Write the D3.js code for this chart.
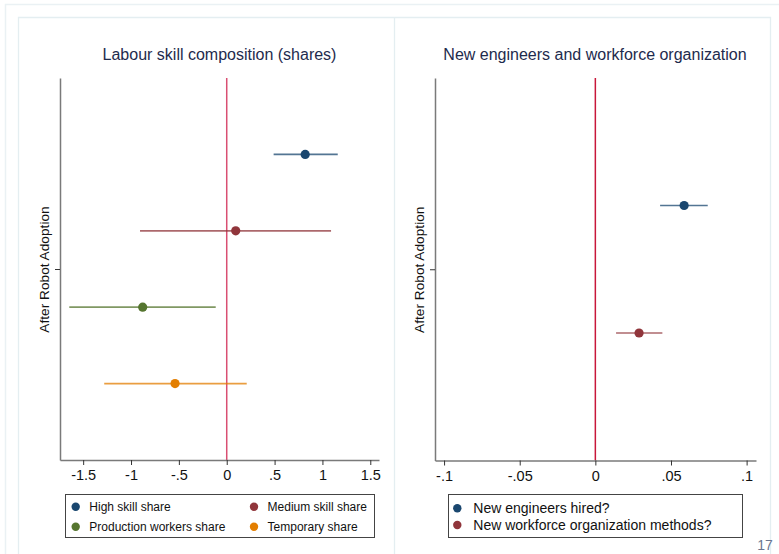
<!DOCTYPE html>
<html>
<head>
<meta charset="utf-8">
<script src="https://cdn.jsdelivr.net/npm/d3@7"></script>
<style>
  html, body { margin: 0; padding: 0; background: #fff; }
  svg { display: block; font-family: "Liberation Sans", Arial, Helvetica, sans-serif; }
</style>
</head>
<body>
<svg id="chart" width="779" height="554"></svg>
<script>
// Coefficient plot: effect of robot adoption, two panels

// Left panel: labour skill composition (shares)
const leftTitle = "Labour skill composition (shares)";
const leftSeries = ["High skill share", "Medium skill share", "Production workers share", "Temporary share"];
const leftCoef = [0.82, 0.094, -0.878, -0.54];
const leftLow  = [0.49, -0.906, -1.645, -1.28];
const leftHigh = [1.16, 1.09, -0.115, 0.209];
const leftTicks = [-1.5, -1, -0.5, 0, 0.5, 1, 1.5];

// Right panel: new engineers and workforce organization
const rightTitle = "New engineers and workforce organization";
const rightSeries = ["New engineers hired?", "New workforce organization methods?"];
const rightCoef = [0.0587, 0.0289];
const rightLow  = [0.0428, 0.0137];
const rightHigh = [0.0743, 0.0443];
const rightTicks = [-0.1, -0.05, 0, 0.05, 0.1];

const coefLabel = "After Robot Adoption";
const palette = ["#1a476f", "#90353b", "#55752f", "#e37e00"];

const svg = d3.select("#chart");

// Slide-style frames
svg.append("path").attr("d", "M5.5,554 V4.5 H779").attr("fill", "none").attr("stroke", "#eaf1f4").attr("stroke-width", 1.5);
svg.append("path").attr("d", "M18.5,554 V17.5 H770.5 V554 M394.5,17.5 V554").attr("fill", "none").attr("stroke", "#e4eef1").attr("stroke-width", 1.3);

// Stata-like number format: .5, -.5, -.05
function stataFmt(v) {
  if (v === 0) return "0";
  let s = String(+v.toFixed(4));
  return s.replace(/^(-?)0\./, "$1.");
}

function panel(cfg) {
  const g = svg.append("g");
  const x = d3.scaleLinear().domain(cfg.xDomain).range([cfg.left, cfg.right]);
  const y = d3.scaleLinear().domain([0.5, 1.5]).range([cfg.top, cfg.bottom]);
  const n = cfg.series.length;
  const step = 1 / (n + 1);
  const pos = i => 1 + (i - (n - 1) / 2) * step;

  // Title
  g.append("text")
    .attr("x", cfg.titleX).attr("y", 60)
    .attr("text-anchor", "middle")
    .attr("font-size", 16).attr("fill", "#1e2b4d")
    .text(cfg.title);

  // Zero reference line
  g.append("line")
    .attr("x1", x(0)).attr("x2", x(0))
    .attr("y1", cfg.top).attr("y2", cfg.bottom)
    .attr("stroke", cfg.zeroColor).attr("stroke-width", 1.5);

  // X axis
  const xAxis = g.append("g")
    .attr("transform", `translate(0,${cfg.bottom})`)
    .call(d3.axisBottom(x).tickValues(cfg.ticks).tickFormat(stataFmt).tickSize(5).tickSizeOuter(0));
  xAxis.select(".domain").attr("stroke", "#7a7a7a").attr("stroke-width", 1.5);
  xAxis.selectAll(".tick line").attr("stroke", "#333");
  xAxis.selectAll(".tick text").attr("font-size", 14.5).attr("fill", "#111").attr("dy", "0.85em")
    .attr("font-family", "Liberation Sans, Arial, sans-serif");

  // Y axis with single rotated coefficient label
  const yAxis = g.append("g")
    .attr("transform", `translate(${cfg.left},0)`)
    .call(d3.axisLeft(y).tickValues([1]).tickFormat(() => coefLabel).tickSize(5).tickSizeOuter(0));
  yAxis.select(".domain").attr("stroke", "#7a7a7a").attr("stroke-width", 1.5);
  yAxis.selectAll(".tick line").attr("stroke", "#333");
  yAxis.selectAll(".tick text")
    .attr("font-size", 13.7).attr("fill", "#111")
    .attr("font-family", "Liberation Sans, Arial, sans-serif")
    .attr("x", 0).attr("dy", 0)
    .attr("text-anchor", "middle")
    .attr("transform", `translate(-11,0) rotate(-90)`);

  // Confidence intervals and point estimates
  cfg.series.forEach((name, i) => {
    const yy = y(pos(i));
    g.append("line")
      .attr("x1", x(cfg.low[i])).attr("x2", x(cfg.high[i]))
      .attr("y1", yy).attr("y2", yy)
      .attr("stroke", palette[i]).attr("stroke-opacity", 0.75).attr("stroke-width", 1.7);
    g.append("circle")
      .attr("cx", x(cfg.coef[i])).attr("cy", yy).attr("r", 4.6)
      .attr("fill", palette[i]);
  });

  // Legend
  const lg = g.append("g");
  lg.append("rect")
    .attr("x", cfg.legend.x + 0.5).attr("y", 494.5)
    .attr("width", cfg.legend.w).attr("height", 43)
    .attr("fill", "#fff").attr("stroke", "#444").attr("stroke-width", 1);
  cfg.series.forEach((name, i) => {
    const col = i % cfg.legend.cols;
    const row = Math.floor(i / cfg.legend.cols);
    const mx = cfg.legend.markX[col];
    const my = cfg.legend.rowY[row];
    lg.append("circle").attr("cx", mx).attr("cy", my).attr("r", 4.2).attr("fill", palette[i]);
    lg.append("text")
      .attr("x", mx + cfg.legend.gap).attr("y", my).attr("dy", "0.36em")
      .attr("font-size", cfg.legend.fontSize).attr("fill", "#111")
      .text(name);
  });
}

panel({
  title: leftTitle, titleX: 219.5,
  series: leftSeries, coef: leftCoef, low: leftLow, high: leftHigh,
  ticks: leftTicks, xDomain: [-1.742, 1.591],
  left: 60, right: 379, top: 78, bottom: 460,
  zeroColor: "#d94f72",
  legend: { x: 65, w: 309, cols: 2, markX: [75.7, 254], rowY: [506.7, 526.7], gap: 13.6, fontSize: 12 }
});

panel({
  title: rightTitle, titleX: 595,
  series: rightSeries, coef: rightCoef, low: rightLow, high: rightHigh,
  ticks: rightTicks, xDomain: [-0.106, 0.1062],
  left: 435, right: 756, top: 78, bottom: 460.5,
  zeroColor: "#c8173a",
  legend: { x: 448, w: 294, cols: 1, markX: [457.3], rowY: [508.3, 525], gap: 16, fontSize: 14 }
});

// Slide page number
svg.append("text")
  .attr("x", 765).attr("y", 550)
  .attr("text-anchor", "middle")
  .attr("font-size", 14).attr("fill", "#6a7690")
  .text("17");
</script>
</body>
</html>
